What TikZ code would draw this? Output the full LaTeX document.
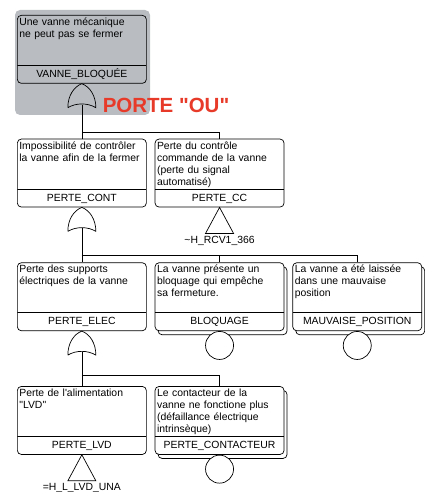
\documentclass[tikz,border=0pt]{standalone}
\usepackage{fontspec}
\setmainfont{Liberation Sans}[Ligatures=TeXOff]
\usetikzlibrary{shapes, positioning, shadows}
\definecolor{selgrey}{RGB}{185,189,194}
\definecolor{gatered}{RGB}{232,58,40}

\tikzset{
    orgate/.pic={
        \draw (-14,24) .. controls (-14,12) and (-8,3) .. (0,0)
            .. controls (8,3) and (14,12) .. (14,24)
            .. controls (6,19) and (-6,19) .. (-14,24);
        \coordinate (-out) at (0,21);
    },
    xfer/.pic={
        \draw (0,0) -- (14,26) -- (-14,26) -- cycle;
        \coordinate (-base) at (0,26);
    }
}

\begin{document}
\begin{tikzpicture}[
    x=1pt, y=-1pt, line width=0.7pt,
    font=\fontsize{10.4}{12}\selectfont,
    event/.style={rectangle, draw=black, rounded corners=4pt, fill=white,
        minimum width=129pt, text width=125pt, align=left,
        inner xsep=2pt, inner ysep=1pt, text height=9pt, text depth=57pt,
        anchor=north west,
        path picture={\draw ([yshift=18pt]path picture bounding box.south west)
            -- ([yshift=18pt]path picture bounding box.south east);}},
    basic/.style={event,
        copy shadow={shadow xshift=3pt, shadow yshift=-4pt, draw=black, fill=white}},
    ident/.style={rectangle, draw=none, inner sep=1pt, text height=8pt, text depth=2pt},
    tag/.style={rectangle, draw=none, inner sep=1pt},
    leaf/.style={circle, draw=black, fill=white, minimum size=28pt, inner sep=0pt},
    porte/.style={rectangle, draw=none, text=gatered,
        font=\bfseries\fontsize{20.5}{22}\selectfont}
]
\useasboundingbox (0,0) rectangle (424,492);
\fill[selgrey, rounded corners=5pt] (15,10) rectangle (150,115);

% top event
\node (vb) [event, fill=none] at (17,15) {Une vanne mécanique\\ne peut pas se fermer};
\node (vb-id) [ident, above=3pt of vb.south] {VANNE\_BLOQUÉE};
\pic (g0) at (vb.south) {orgate};
\node (ou) [porte] at (166,105) {PORTE "OU"};

% level 2
\node (imp) [event, below=55pt of vb] {Impossibilité de contrôler\\la vanne afin de la fermer};
\node (imp-id) [ident, above=3pt of imp.south] {PERTE\_CONT};
\node (pcc) [event, right=8pt of imp] {Perte du contrôle\\commande de la vanne\\(perte du signal\\automatisé)};
\node (pcc-id) [ident, above=3pt of pcc.south] {PERTE\_CC};
\draw (g0-out) -- (imp.north);
\draw ([yshift=6pt]imp.north) -| (pcc.north);
\pic (t0) at (pcc.south) {xfer};
\node (t0-tag) [tag, below=1pt of t0-base] {\textasciitilde H\_RCV1\_366};
\pic (g1) at (imp.south) {orgate};

% level 3
\node (elec) [event, below=55pt of imp] {Perte des supports\\électriques de la vanne};
\node (elec-id) [ident, above=3pt of elec.south] {PERTE\_ELEC};
\node (bloq) [basic, right=8pt of elec] {La vanne présente un\\bloquage qui empêche\\sa fermeture.};
\node (bloq-id) [ident, above=3pt of bloq.south] {BLOQUAGE};
\node (mauv) [basic, right=8pt of bloq] {La vanne a été laissée\\dans une mauvaise\\position};
\node (mauv-id) [ident, above=3pt of mauv.south] {MAUVAISE\_POSITION};
\draw (g1-out) -- (elec.north);
\draw ([yshift=7pt]elec.north) -| (bloq.north);
\draw ([yshift=7pt]elec.north) -| (mauv.north);
\node (bloq-c) [leaf, below=0pt of bloq] {};
\node (mauv-c) [leaf, below=0pt of mauv] {};
\pic (g2) at (elec.south) {orgate};

% level 4
\node (lvd) [event, below=55pt of elec] {Perte de l'alimentation\\"LVD"};
\node (lvd-id) [ident, above=3pt of lvd.south] {PERTE\_LVD};
\node (cont) [basic, right=8pt of lvd] {Le contacteur de la\\vanne ne fonctione plus\\(défaillance électrique\\intrinsèque)};
\node (cont-id) [ident, above=3pt of cont.south] {PERTE\_CONTACTEUR};
\draw (g2-out) -- (lvd.north);
\draw ([yshift=11pt]lvd.north) -| (cont.north);
\node (cont-c) [leaf, below=0pt of cont] {};
\pic (t1) at (lvd.south) {xfer};
\node (t1-tag) [tag, below=1pt of t1-base] {=H\_L\_LVD\_UNA};
\end{tikzpicture}
\end{document}
